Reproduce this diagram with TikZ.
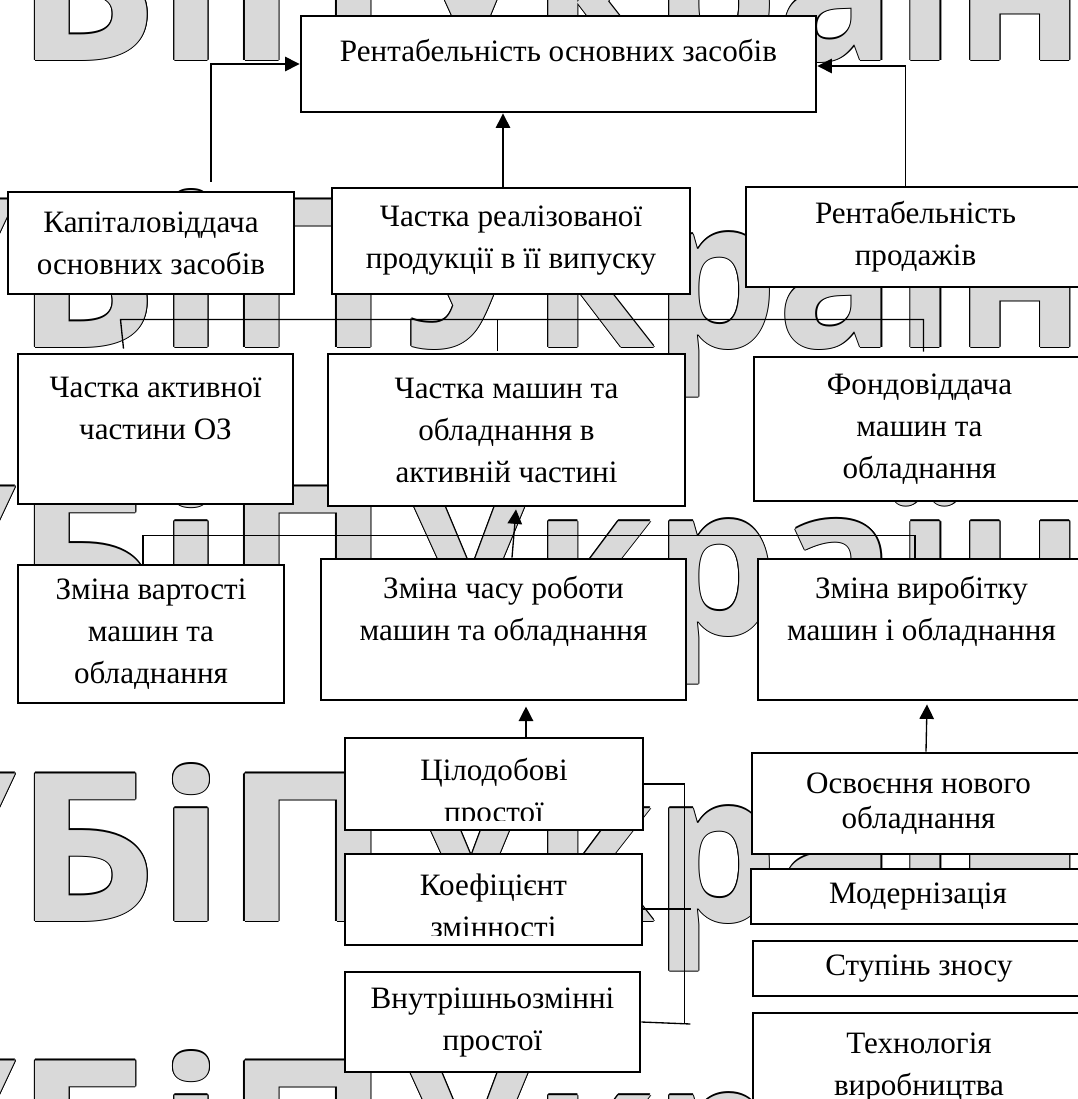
\documentclass[tikz,border=0pt]{standalone}
\usepackage{fontspec}
\setmainfont{Liberation Serif}
\newfontfamily\wmfont{Open Sans}[FakeStretch=1.075]
\newfontfamily\wmfontb{Open Sans}[FakeStretch=0.946]
\usetikzlibrary{arrows.meta,positioning,calc}
\usepackage{xcolor}
\colorlet{wmgray}{gray!30}
\newcommand\boxfont{\fontsize{14pt}{18.9pt}\selectfont}
\newcommand\wmcopy[3]{\rlap{\hspace*{#1}\raisebox{#2}{\color{black}#3}}}
\newcommand\wmline[1]{\wmcopy{0.5pt}{0pt}{#1}\wmcopy{-0.5pt}{0pt}{#1}%
  \wmcopy{0pt}{0.5pt}{#1}\wmcopy{0pt}{-0.5pt}{#1}\wmcopy{0.35pt}{0.35pt}{#1}%
  \wmcopy{-0.35pt}{0.35pt}{#1}\wmcopy{0.35pt}{-0.35pt}{#1}\wmcopy{-0.35pt}{-0.35pt}{#1}%
  {\color{wmgray}#1}}

\begin{document}
\begin{tikzpicture}[x=0.45pt, y=-0.45pt,
  every node/.style={font=\boxfont},
  corners/.style n args={4}{at={({(#1+#3)/2},{(#2+#4)/2})},
    minimum width={(#3-#1)*0.45pt}, minimum height={(#4-#2)*0.45pt}},
  box/.style={draw, line width=1.3pt, fill=white, inner sep=0pt, align=center},
  cutbox/.style 2 args={box, path picture={
      \clip (path picture bounding box.north west) rectangle
            ([yshift=4.5pt]path picture bounding box.south east);
      \node[align=center, yshift=#2] at (path picture bounding box.center) {#1};}},
  link/.style={line width=0.6pt},
  arr/.style={line width=0.6pt, -{Triangle[length=6.5pt,width=6.5pt]}},
  wm/.style={font=\wmfont\bfseries\fontsize{93pt}{93pt}\selectfont,
    inner sep=0pt, anchor=base west},
  wmb/.style={wm, font=\wmfontb\bfseries\fontsize{93pt}{93pt}\selectfont}]
\useasboundingbox[fill=white] (0,0) rectangle (1078,1099);
\foreach \r in {60,347,634,921,1208} {
  \node[wm] (wm-\r) at (-130,\r) {\wmline{УБіП}};
  \node[wmb] (wmb-\r) at (405,\r) {\wmline{України}};}
\node[box, corners={301}{16}{816}{112}, text height=9.5pt, text depth=12.2pt] (top)
  {Рентабельність основних засобів};
\node[box, corners={8}{192}{294}{294}] (kap) {Капіталовіддача\\основних засобів};
\node[box, corners={332}{188}{690}{294}] (chr) {Частка реалізованої\\продукції в її випуску};
\node[box, corners={746}{187}{1085}{287}] (rp) {Рентабельність\\продажів};
\node[box, corners={18}{354}{293}{504}] (cha) {Частка активної\\частини ОЗ\\\mbox{}};
\node[box, corners={328}{354}{685}{506}] (chm) {Частка машин та\\обладнання в\\активній частині};
\node[box, corners={754}{357}{1085}{501}] (fond) {Фондовіддача\\машин та\\обладнання};
\node[box, corners={18}{565}{284}{703}] (zvar) {Зміна вартості\\машин та\\обладнання};
\node[box, corners={321}{559}{686}{700}] (zchas) {Зміна часу роботи\\машин та обладнання\\\mbox{}};
\node[box, corners={758}{559}{1085}{700}] (zvyr) {Зміна виробітку\\машин і обладнання\\\mbox{}};
\node[cutbox={Цілодобові\\простої}{-4.5pt}, corners={345}{738}{643}{830}] (cilo) {};
\node[cutbox={Коефіцієнт\\змінності}{-2.7pt}, corners={345}{854}{642}{945}] (koef) {};
\node[box, corners={345}{972}{640}{1072}] (vnutr) {Внутрішньозмінні\\простої};
\node[box, corners={752}{753}{1085}{854}, font=\fontsize{14pt}{15.75pt}\selectfont] (osv)
  {Освоєння нового\\обладнання};
\node[box, corners={751}{869}{1085}{924}] (modern) {Модернізація};
\node[box, corners={753}{941}{1085}{996}] (stup) {Ступінь зносу};
\node[box, corners={753}{1013}{1085}{1121}] (tech) {Технологія\\виробництва};
\draw[arr] ($(kap.north)+(60,-9)$) |- (top.west);
\coordinate (chrup) at ($(chr.north)+(-8,0)$);
\draw[arr] (chrup) -- (chrup |- top.south);
\draw[arr] ($(rp.north)+(-10,0)$) |- ($(top.east)+(0,2)$);
\draw[link] ($(cha.north)+(-32,-4)$) -- ++(-3,-29) -| ($(fond.north)+(4,-4)$);
\draw[link] ($(chm.north)+(-9,-2)$) -- ++(0,-31);
\draw[link] ($(zvar.north)+(-8,0)$) |- ($(zvyr.north)+(-6.5,-22)$) -- ($(zvyr.north)+(-6.5,0)$);
\draw[arr] ($(zchas.north)+(8.5,0)$) -- ($(chm.south)+(9.5,2)$);
\draw[arr] ($(cilo.north)+(32,0)$) -- ($(cilo.north)+(32,-30)$);
\draw[arr] ($(osv.north)+(7.5,0)$) -- ($(zvyr.south)+(5.5,3)$);
\draw[link] (cilo.east) -- ++(40,0) -- ++(0,239);
\draw[link] ($(koef.east)+(0,9.5)$) -- ++(48,0);
\draw[link] (vnutr.east) -- ++(49,2);
\end{tikzpicture}
\end{document}
